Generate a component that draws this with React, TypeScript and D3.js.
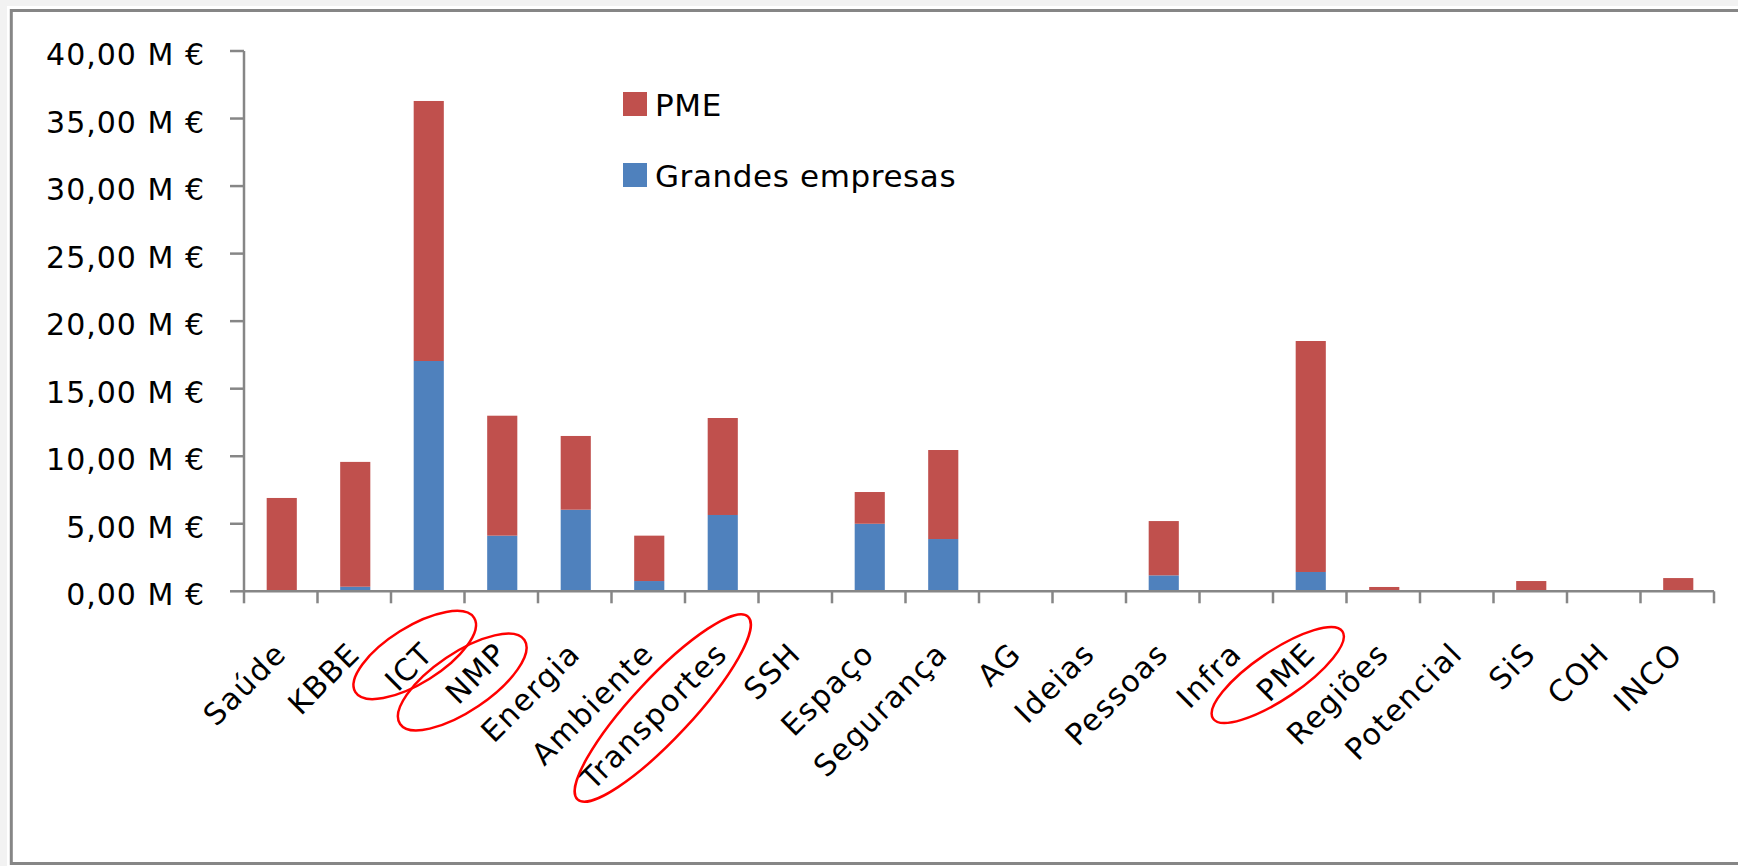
import * as d3 from "d3";

const categories = [
  "Saúde", "KBBE", "ICT", "NMP", "Energia", "Ambiente", "Transportes", "SSH", "Espaço", "Segurança",
  "AG", "Ideias", "Pessoas", "Infra", "PME", "Regiões", "Potencial", "SiS", "COH", "INCO",
];
// values in millions of euros
const grandesEmpresas = [0, 0.34, 17.05, 4.12, 6.04, 0.76, 5.65, 0, 5.0, 3.87, 0, 0, 1.18, 0, 1.43, 0, 0, 0, 0, 0];
const pmeValues = [6.91, 9.24, 19.25, 8.88, 5.46, 3.36, 7.18, 0, 2.35, 6.59, 0, 0, 4.02, 0, 17.1, 0.32, 0, 0.76, 0, 0.98];
const yTickValues = [0, 5, 10, 15, 20, 25, 30, 35, 40];
const seriesKeys = ["grandes", "pme"];
const legendLabels = ["PME", "Grandes empresas"];

// hand-drawn red circles around some labels
const highlights = [
  { category: "ICT", dx: -13, cy: 655, rx: 70, ry: 28, angle: -32 },
  { category: "NMP", dx: -39, cy: 682, rx: 75, ry: 29, angle: -34 },
  { category: "Transportes", dx: -59, cy: 708, rx: 125, ry: 30, angle: -47 },
  { category: "PME", dx: -32, cy: 675, rx: 78, ry: 24, angle: -34 },
];

const W = 1738;
const H = 866;
const RED = "#C0504D";
const BLUE = "#4F81BD";
const AXIS = "#868686";
const FONT = "'DejaVu Sans', sans-serif";

const fmt = (v: number) => `${d3.format(".2f")(v).replace(".", ",")} M €`;

export default function App() {
  const x = d3
    .scaleBand<string>()
    .domain(categories)
    .range([244, 1714])
    .paddingInner(0.59)
    .paddingOuter(0.295);
  const y = d3.scaleLinear().domain([0, 40]).range([591.3, 51]);

  const rows = categories.map((category, i) => ({
    category,
    grandes: grandesEmpresas[i],
    pme: pmeValues[i],
  }));
  const stacked = d3.stack<(typeof rows)[number]>().keys(seriesKeys)(rows);
  const colors: Record<string, string> = { grandes: BLUE, pme: RED };

  const [x0, x1] = x.range();
  const boundaries = d3.range(categories.length + 1).map((i) => x0 + i * x.step());
  const center = (c: string) => (x(c) ?? 0) + x.bandwidth() / 2;

  return (
    <svg
      width={W}
      height={H}
      viewBox={`0 0 ${W} ${H}`}
      style={{ position: "absolute", left: 0, top: 0, display: "block" }}
    >
      <rect width={W} height={H} fill="#f2f2f2" />
      <rect x={7} y={6} width={W} height={H} fill="#ffffff" />
      <rect x={11.3} y={10.5} width={W} height={853} fill="none" stroke={AXIS} strokeWidth={3} />

      {/* bars */}
      {stacked.map((layer) => (
        <g key={layer.key} fill={colors[layer.key]}>
          {layer.map((d) => (
            <rect
              key={d.data.category}
              x={(x(d.data.category) ?? 0) + 1}
              y={y(d[1])}
              width={x.bandwidth()}
              height={Math.max(0, y(d[0]) - y(d[1]))}
            />
          ))}
        </g>
      ))}

      {/* axes */}
      <g stroke={AXIS} strokeWidth={2.5}>
        <line x1={x0} x2={x0} y1={y(40)} y2={y(0)} />
        {yTickValues.map((v) => (
          <line key={v} x1={230} x2={x0} y1={y(v)} y2={y(v)} />
        ))}
        <line x1={x0} x2={x1} y1={y(0)} y2={y(0)} />
        {boundaries.map((b, i) => (
          <line key={i} x1={b} x2={b} y1={y(0)} y2={y(0) + 12} />
        ))}
      </g>
      <g fontFamily={FONT} fontSize={30} fill="#000" textAnchor="end">
        {yTickValues.map((v) => (
          <text key={v} x={205} y={y(v) + 14} letterSpacing={1}>
            {fmt(v)}
          </text>
        ))}
      </g>

      {/* category labels */}
      <g fontFamily={FONT} fontSize={30} fill="#000" textAnchor="end">
        {categories.map((c) => (
          <text
            key={c}
            transform={`translate(${center(c)},648) rotate(-45)`}
            dy="0.35em"
            letterSpacing={1.6}
          >
            {c}
          </text>
        ))}
      </g>

      {/* legend */}
      <g fontFamily={FONT} fontSize={31} fill="#000">
        {legendLabels.map((label, i) => (
          <g key={label} transform={`translate(623,${92 + i * 71})`}>
            <rect width={24} height={24} fill={i === 0 ? RED : BLUE} />
            <text x={32} y={24} letterSpacing={0.6}>
              {label}
            </text>
          </g>
        ))}
      </g>

      {/* red annotation ellipses */}
      <g fill="none" stroke="#ff0000" strokeWidth={2.5}>
        {highlights.map((h) => {
          const cx = center(h.category) + h.dx;
          return (
            <ellipse
              key={h.category}
              rx={h.rx}
              ry={h.ry}
              transform={`translate(${cx},${h.cy}) rotate(${h.angle})`}
            />
          );
        })}
      </g>
    </svg>
  );
}
